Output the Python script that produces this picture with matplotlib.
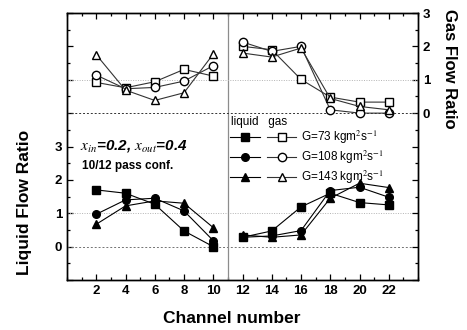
import matplotlib
matplotlib.use("Agg")
import matplotlib.pyplot as plt
from matplotlib.ticker import MultipleLocator, FixedLocator, FuncFormatter
from matplotlib.lines import Line2D
from matplotlib.legend_handler import HandlerTuple

plt.rcParams["font.family"] = ["Liberation Sans", "DejaVu Sans"]
plt.rcParams["mathtext.fontset"] = "stix"

# --- data -------------------------------------------------------------------
CH_LO = [2, 4, 6, 8, 10]
CH_HI = [12, 14, 16, 18, 20, 22]
LABELS = ["G=73 kgm$^{2}$s$^{-1}$", "G=108 kgm$^{2}$s$^{-1}$", "G=143 kgm$^{2}$s$^{-1}$"]
MARKERS = ["s", "o", "^"]

# liquid flow ratio (left axis)
LIQ_LO = [
    [1.70, 1.60, 1.27, 0.47, 0.00],
    [0.97, 1.40, 1.45, 1.07, 0.18],
    [0.67, 1.22, 1.37, 1.30, 0.57],
]
LIQ_HI = [
    [0.28, 0.47, 1.19, 1.60, 1.32, 1.25],
    [0.28, 0.32, 0.48, 1.68, 1.78, 1.48],
    [0.35, 0.28, 0.35, 1.45, 1.90, 1.77],
]
# gas flow ratio (right axis)
GAS_LO = [
    [0.92, 0.76, 0.94, 1.31, 1.11],
    [1.14, 0.73, 0.77, 0.96, 1.42],
    [1.75, 0.69, 0.38, 0.61, 1.77],
]
GAS_HI = [
    [2.00, 1.90, 1.01, 0.48, 0.33, 0.33],
    [2.13, 1.85, 2.00, 0.10, 0.00, 0.00],
    [1.80, 1.68, 1.95, 0.44, 0.20, 0.10],
]

fig = plt.figure(figsize=(4.67, 3.3), dpi=100)
ax = fig.add_axes([67 / 467, 1 - 280 / 330, 351 / 467, 267 / 330])
ax2 = ax.twinx()

ax.set_xlim(0, 24)
ax.set_ylim(-1, 7)
ax2.set_ylim(-5, 3)

# reference lines
ax.axhline(0, color="0.45", ls=(0, (2, 2)), lw=0.7)
ax.axhline(1, color="0.7", ls=(0, (1, 1.5)), lw=0.7)
ax2.axhline(0, color="0.2", ls=(0, (2, 2)), lw=0.7)
ax2.axhline(1, color="0.7", ls=(0, (1, 1.5)), lw=0.7)
ax.axvline(11, color="0.55", lw=0.9)

ms = 5.5
for i in range(3):
    m = MARKERS[i]
    ax.plot(CH_LO, LIQ_LO[i], marker=m, color="black", mfc="black", ms=ms, lw=0.8)
    ax.plot(CH_HI, LIQ_HI[i], marker=m, color="black", mfc="black", ms=ms, lw=0.8)
    ax2.plot(CH_LO, GAS_LO[i], marker=m, color="0.2", mfc="white", mec="black",
             ms=ms + 0.5, lw=0.8)
    ax2.plot(CH_HI, GAS_HI[i], marker=m, color="0.2", mfc="white", mec="black",
             ms=ms + 0.5, lw=0.8)

# ticks
ax.xaxis.set_major_locator(FixedLocator(CH_LO + CH_HI))
ax.xaxis.set_minor_locator(MultipleLocator(1))
ax.yaxis.set_major_locator(MultipleLocator(1))
ax.yaxis.set_minor_locator(MultipleLocator(0.5))
ax2.yaxis.set_major_locator(MultipleLocator(1))
ax2.yaxis.set_minor_locator(MultipleLocator(0.5))
only_03 = FuncFormatter(lambda v, p: f"{v:.0f}" if 0 <= round(v) <= 3 and abs(v - round(v)) < 1e-6 else "")
ax.yaxis.set_major_formatter(only_03)
ax2.yaxis.set_major_formatter(only_03)

for a in (ax, ax2):
    a.tick_params(which="both", direction="in", width=0.9)
    a.tick_params(which="major", length=4.5)
    a.tick_params(which="minor", length=2.5)
ax.tick_params(top=True, which="both", labelsize=9.5)
ax2.tick_params(labelsize=9.5)
for lab in ax.get_xticklabels() + ax.get_yticklabels() + ax2.get_yticklabels():
    lab.set_fontweight("bold")

for a in (ax, ax2):
    for s in a.spines.values():
        s.set_linewidth(1.0)

ax.set_xlabel("Channel number", fontsize=12.5, fontweight="bold")
ax.xaxis.set_label_coords(0.47, -0.115)
ax.set_ylabel("Liquid Flow Ratio", fontsize=12.5, fontweight="bold")
ax.yaxis.set_label_coords(-0.10, 0.29)
ax2.set_ylabel("Gas Flow Ratio", fontsize=12, fontweight="bold", rotation=270,
               va="center")
ax2.yaxis.set_label_coords(1.09, 0.79)

# annotations
ax.text(0.9, 3.02, r"$x_{in}$=0.2, $x_{out}$=0.4", fontsize=11,
        fontweight="bold", style="italic", va="center")
ax.text(1.0, 2.42, "10/12 pass conf.", fontsize=8.5, fontweight="bold",
        va="center")

# legend: each row = (filled liquid handle, open gas handle)
ax.text(11.2, 3.72, "liquid   gas", fontsize=8.5, va="center")
pairs = []
for m in MARKERS:
    f = Line2D([], [], marker=m, color="black", mfc="black", ms=ms, lw=0.8)
    o = Line2D([], [], marker=m, color="0.2", mfc="white", mec="black",
               ms=ms + 0.5, lw=0.8)
    pairs.append((f, o))
ax.legend(pairs, LABELS, handler_map={tuple: HandlerTuple(ndivide=None, pad=0.6)},
          frameon=False, loc="upper left", bbox_to_anchor=(0.465, 0.565),
          fontsize=8.5, handlelength=5.6, handletextpad=0.4,
          labelspacing=0.2, borderpad=0, borderaxespad=0)

fig.savefig("out.png", dpi=100)
